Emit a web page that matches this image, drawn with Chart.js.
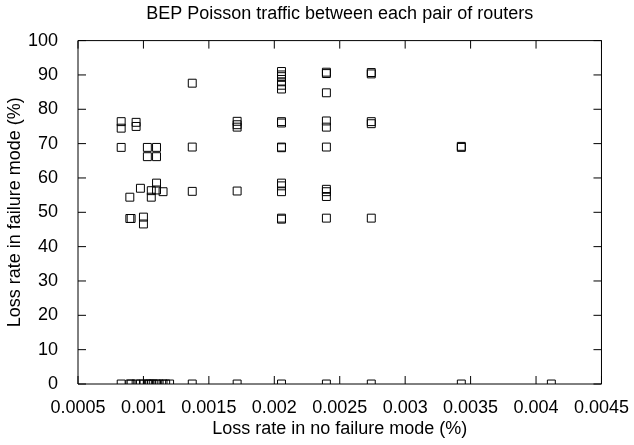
<!DOCTYPE html>
<html>
<head>
<meta charset="utf-8">
<script src="https://cdn.jsdelivr.net/npm/chart.js@4/dist/chart.umd.min.js"></script>
<style>
  html, body { margin: 0; padding: 0; background: #fff; }
  #wrap { width: 634px; height: 445px; }
</style>
</head>
<body>
<div id="wrap"><canvas id="myChart" width="634" height="445"></canvas></div>
<script>
// loss rate in no failure mode (%), one entry per column of points
const noFailureRate = [
  0.00083, 0.000896, 0.000906, 0.000944, 0.000977, 0.001, 0.00103, 0.001045,
  0.00106, 0.001075, 0.0011, 0.00112, 0.00115, 0.00117, 0.0012,
  0.001373, 0.001716, 0.002055, 0.002398, 0.002741, 0.003429, 0.004117
];
// loss rate in failure mode (%) measured at each column above
const failureRate = [
  [76.4, 74.5, 68.9, 0],
  [54.4, 48.2, 0],
  [48.2, 0],
  [76.2, 75.0, 0],
  [57.0, 0],
  [48.6, 46.6, 0],
  [68.9, 66.2, 0],
  [0],
  [56.3, 54.4, 0],
  [0],
  [68.9, 66.2, 58.5, 56.5, 0],
  [0],
  [56.0, 0],
  [0],
  [0],
  [87.6, 69.0, 56.1, 0],
  [76.5, 75.5, 74.8, 56.2, 0],
  [91.0, 90.0, 89.5, 88.0, 87.0, 85.9, 76.4, 76.0, 69.0, 68.8, 58.5, 57.7, 56.0, 48.3, 48.0, 0],
  [90.8, 90.4, 84.8, 76.6, 74.8, 69.0, 56.7, 56.0, 54.6, 48.3, 0],
  [90.7, 90.3, 76.4, 75.8, 48.3, 0],
  [69.2, 68.9, 0],
  [0]
];
const xTicks = [0.0005, 0.001, 0.0015, 0.002, 0.0025, 0.003, 0.0035, 0.004, 0.0045];
const yTicks = [0, 10, 20, 30, 40, 50, 60, 70, 80, 90, 100];

var points = [];
for (let i = 0; i < noFailureRate.length; i++) {
  for (let j = 0; j < failureRate[i].length; j++) {
    points.push({ x: noFailureRate[i], y: failureRate[i][j] });
  }
}

const FONT = "'Liberation Sans', Arial, Helvetica, sans-serif";

// gnuplot style frame with inward ticks on all four sides
const frameTicks = {
  id: "frameTicks",
  afterDraw(chart) {
    const ctx = chart.ctx;
    const a = chart.chartArea;
    const xs = chart.scales.x;
    const ys = chart.scales.y;
    const len = 8;
    ctx.save();
    ctx.strokeStyle = "#000";
    ctx.lineWidth = 1;
    ctx.beginPath();
    ctx.rect(a.left, a.top, a.right - a.left, a.bottom - a.top);
    xTicks.forEach((v) => {
      const px = xs.getPixelForValue(v);
      ctx.moveTo(px, a.bottom);
      ctx.lineTo(px, a.bottom - len);
      ctx.moveTo(px, a.top);
      ctx.lineTo(px, a.top + len);
    });
    yTicks.forEach((v) => {
      const py = ys.getPixelForValue(v);
      ctx.moveTo(a.left, py);
      ctx.lineTo(a.left + len, py);
      ctx.moveTo(a.right, py);
      ctx.lineTo(a.right - len, py);
    });
    ctx.stroke();
    ctx.restore();
  },
};

const ctx = document.getElementById("myChart").getContext("2d");
const myChart = new Chart(ctx, {
  type: "scatter",
  data: {
    datasets: [
      {
        label: "pairs",
        data: points,
        pointStyle: "rect",
        pointRadius: 5.6,
        pointHoverRadius: 5.6,
        borderColor: "#000",
        borderWidth: 1,
        backgroundColor: "rgba(0,0,0,0)",
      },
    ],
  },
  options: {
    responsive: false,
    animation: false,
    events: [],
    layout: { padding: { top: 0, right: 31, bottom: 0, left: 0 } },
    plugins: {
      legend: { display: false },
      tooltip: { enabled: false },
      title: {
        display: true,
        fullSize: false,
        text: "BEP Poisson traffic between each pair of routers",
        color: "#000",
        font: { family: FONT, size: 18, weight: "normal" },
        padding: { top: 3, bottom: 16 },
      },
    },
    scales: {
      x: {
        type: "linear",
        min: 0.0005,
        max: 0.0045,
        afterBuildTicks: (scale) => {
          scale.ticks = xTicks.map((v) => ({ value: v }));
        },
        afterFit: (scale) => {
          scale.height = 61;
        },
        grid: { display: false },
        border: { display: false },
        ticks: {
          color: "#000",
          padding: 5,
          maxRotation: 0,
          font: { family: FONT, size: 18 },
          callback: (v) => Number(v.toFixed(4)).toString(),
        },
        title: {
          display: true,
          text: "Loss rate in no failure mode (%)",
          color: "#000",
          font: { family: FONT, size: 18 },
          padding: { top: 0, bottom: 5 },
        },
      },
      y: {
        min: 0,
        max: 100,
        afterBuildTicks: (scale) => {
          scale.ticks = yTicks.map((v) => ({ value: v }));
        },
        afterFit: (scale) => {
          scale.width = 78;
        },
        grid: { display: false },
        border: { display: false },
        ticks: {
          color: "#000",
          padding: 12,
          font: { family: FONT, size: 18 },
        },
        title: {
          display: true,
          text: "Loss rate in failure mode (%)",
          color: "#000",
          font: { family: FONT, size: 18 },
          padding: { top: 4, bottom: 0 },
        },
      },
    },
  },
  plugins: [frameTicks],
});
</script>
</body>
</html>
